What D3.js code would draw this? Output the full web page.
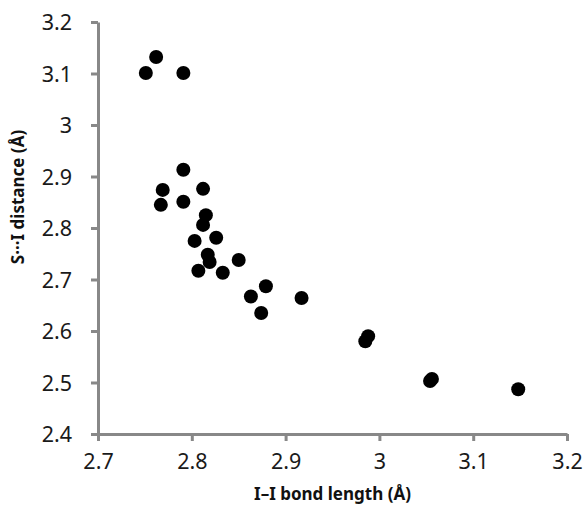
<!DOCTYPE html>
<html>
<head>
<meta charset="utf-8">
<script src="https://cdn.jsdelivr.net/npm/d3@7"></script>
<style>
  body { margin: 0; background: #fff; }
  svg { display: block; font-family: "Noto Sans", "DejaVu Sans", sans-serif; }
</style>
</head>
<body>
<svg id="chart" width="585" height="510"></svg>
<script>
// I-I bond length vs S...I distance
var bondLength = [2.751, 2.762, 2.791, 2.791, 2.769, 2.767, 2.791, 2.812, 2.815, 2.812,
                  2.803, 2.826, 2.817, 2.819, 2.807, 2.833, 2.850, 2.863, 2.879, 2.874,
                  2.917, 2.988, 2.985, 3.054, 3.056, 3.148];
var siDistance = [3.101, 3.132, 3.101, 2.913, 2.874, 2.845, 2.851, 2.876, 2.825, 2.806,
                  2.775, 2.781, 2.748, 2.734, 2.717, 2.713, 2.738, 2.667, 2.687, 2.635,
                  2.664, 2.590, 2.580, 2.503, 2.507, 2.487];
var xTicks = [2.7, 2.8, 2.9, 3.0, 3.1, 3.2];
var yTicks = [2.4, 2.5, 2.6, 2.7, 2.8, 2.9, 3.0, 3.1, 3.2];

var LEFT = 98, RIGHT = 567, TOP = 22, BOTTOM = 434;
var AXIS_COLOR = "#888888";

var svg = d3.select("#chart");

var x = d3.scaleLinear().domain([2.7, 3.2]).range([LEFT, RIGHT]);
var y = d3.scaleLinear().domain([2.4, 3.2]).range([BOTTOM, TOP]);

var fmt = function(d) { return d3.format("")(+d.toFixed(1)); };

var xAxis = svg.append("g")
    .attr("transform", "translate(0," + BOTTOM + ")")
    .call(d3.axisBottom(x).tickValues(xTicks).tickFormat(fmt).tickSize(7).tickSizeOuter(0).tickPadding(13));

var yAxis = svg.append("g")
    .attr("transform", "translate(" + LEFT + ",0)")
    .call(d3.axisLeft(y).tickValues(yTicks).tickFormat(fmt).tickSize(7).tickSizeOuter(0).tickPadding(19));

[xAxis, yAxis].forEach(function(g) {
    g.select(".domain").attr("stroke", AXIS_COLOR).attr("stroke-width", 3);
    g.selectAll(".tick line").attr("stroke", AXIS_COLOR).attr("stroke-width", 3);
    g.selectAll(".tick text")
        .attr("fill", "#1a1a1a")
        .style("font-size", "21.5px")
        .style("font-family", "\"Noto Sans\", sans-serif");
});
yAxis.selectAll(".tick text").attr("dy", "0.35em");

// points
svg.append("g").selectAll("circle")
    .data(bondLength.map(function(v, i) { return [v, siDistance[i]]; }))
    .join("circle")
    .attr("cx", function(d) { return x(d[0]); })
    .attr("cy", function(d) { return y(d[1]); })
    .attr("r", 7)
    .attr("fill", "#000");

// axis titles
svg.append("text")
    .attr("x", (LEFT + RIGHT) / 2)
    .attr("y", 500)
    .attr("text-anchor", "middle")
    .style("font-size", "17px")
    .style("font-weight", "bold")
    .attr("fill", "#111")
    .text("I\u2013I bond length (\u00C5)");

svg.append("text")
    .attr("transform", "translate(24," + 197 + ") rotate(-90)")
    .attr("text-anchor", "middle")
    .style("font-size", "17px")
    .style("font-weight", "bold")
    .attr("fill", "#111")
    .text("S\u00B7\u00B7\u00B7I distance (\u00C5)");
</script>
</body>
</html>
